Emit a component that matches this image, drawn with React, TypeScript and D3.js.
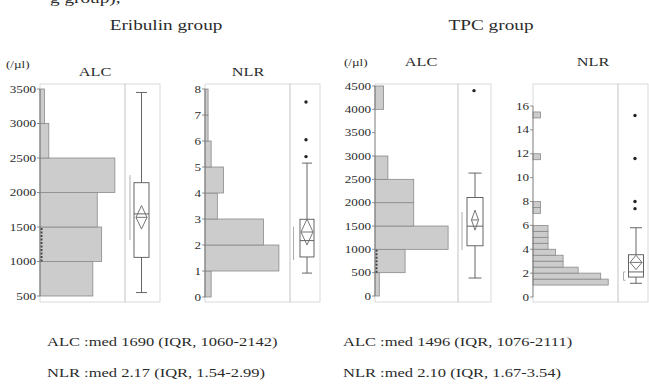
import React from 'react';
import * as d3 from 'd3';

// Eribulin group
const eribAlcEdges = [500, 1000, 1500, 2000, 2500, 3000];
const eribAlcCounts = [12, 14, 13, 17, 2, 1];
const eribAlcTicks = [500, 1000, 1500, 2000, 2500, 3000, 3500];
const eribAlcBox = [550, 1060, 1690, 2142, 3450]; // min, q1, median, q3, max
const eribAlcMean = [1470, 1640, 1810];
const eribAlcShort = [1310, 2250];
const eribAlcOut: number[] = [];
const eribAlcRug = [1000, 1500];

const eribNlrEdges = [0, 1, 2, 3, 4, 5, 6, 7];
const eribNlrCounts = [2, 24, 19, 4, 6, 2, 1, 1];
const eribNlrTicks = [0, 1, 2, 3, 4, 5, 6, 7, 8];
const eribNlrBox = [0.92, 1.54, 2.17, 2.99, 5.15];
const eribNlrMean = [2.0, 2.5, 3.0];
const eribNlrShort = [1.42, 2.7];
const eribNlrOut = [5.4, 6.05, 7.5];

// TPC group
const tpcAlcEdges = [0, 500, 1000, 1500, 2000, 2500, 3000, 3500, 4000];
const tpcAlcCounts = [1, 7, 17, 9, 9, 3, 0, 0, 2];
const tpcAlcTicks = [0, 500, 1000, 1500, 2000, 2500, 3000, 3500, 4000, 4500];
const tpcAlcBox = [385, 1076, 1496, 2111, 2634];
const tpcAlcMean = [1410, 1630, 1840];
const tpcAlcShort = [985, 1800];
const tpcAlcOut = [4400];
const tpcAlcRug = [500, 1000];

const tpcNlrEdges = [1, 1.5, 2, 2.5, 3, 3.5, 4, 4.5, 5, 5.5, 7, 7.5, 11.5, 15];
const tpcNlrCounts = [10, 9, 6, 4, 4, 3, 2, 2, 2, 2, 1, 1, 1, 1];
const tpcNlrTicks = [0, 2, 4, 6, 8, 10, 12, 14, 16];
const tpcNlrBox = [1.15, 1.67, 2.10, 3.54, 5.8];
const tpcNlrMean = [2.3, 2.9, 3.5];
const tpcNlrShort = [1.4, 2.1];
const tpcNlrOut = [7.4, 8.0, 11.6, 15.2];

const summaryLines = [
  'ALC :med 1690 (IQR, 1060-2142)',
  'NLR :med 2.17 (IQR, 1.54-2.99)',
  'ALC :med 1496 (IQR, 1076-2111)',
  'NLR :med 2.10 (IQR, 1.67-3.54)',
];

const SX = 1.25; // the source figure is stretched sideways
const FONT = "'Liberation Serif', 'Times New Roman', serif";
const INK = '#2b2b2b';

function T({ x, y, size, anchor = 'start', children }: any) {
  return (
    <text
      transform={`translate(${x},${y}) scale(${SX},1)`}
      fontSize={size}
      textAnchor={anchor}
      fontFamily={FONT}
      fill={INK}
    >
      {children}
    </text>
  );
}

function Panel({ lay, edges, counts, binW, ticks, box, mean, short, out, rug }: any) {
  const top = 84;
  const bottom = 302;
  const y = d3.scaleLinear().domain(lay.domain).range(lay.yRange);
  const x = d3.scaleLinear().domain([0, lay.xMax]).range([lay.x0, lay.x1]);
  const [mn, q1, md, q3, mx] = box;
  const cx = lay.cx;
  const hw = lay.bw / 2;
  const cap = lay.cap / 2;
  return (
    <g>
      <rect x={lay.x0} y={top} width={lay.x1 - lay.x0} height={bottom - top} fill="none" stroke="#cfcfcf" strokeWidth={0.8} />
      <rect x={lay.x1} y={top} width={lay.xb - lay.x1} height={bottom - top} fill="none" stroke="#cfcfcf" strokeWidth={0.8} />

      {edges.map((e: number, i: number) =>
        counts[i] > 0 ? (
          <rect
            key={i}
            x={x(0)}
            y={y(e + binW)}
            width={x(counts[i]) - x(0)}
            height={y(e) - y(e + binW)}
            fill="#cccccc"
            stroke="#8a8a8a"
            strokeWidth={0.8}
          />
        ) : null
      )}
      {rug ? (
        <line x1={lay.x0 + 1.5} x2={lay.x0 + 1.5} y1={y(rug[0])} y2={y(rug[1])} stroke="#444" strokeWidth={2} strokeDasharray="2,1.5" />
      ) : null}

      <line x1={lay.x0} x2={lay.x0} y1={y(ticks[ticks.length - 1])} y2={y(ticks[0])} stroke="#777" strokeWidth={0.8} />
      {ticks.map((t: number) => (
        <g key={t}>
          <line x1={lay.x0 - 3} x2={lay.x0} y1={y(t)} y2={y(t)} stroke="#777" strokeWidth={0.8} />
          <T x={lay.x0 - 4} y={y(t) + 3.5} size={10.5} anchor="end">{t}</T>
        </g>
      ))}

      {/* shortest half bracket */}
      <line x1={lay.bx} x2={lay.bx} y1={y(short[1])} y2={y(short[0])} stroke="#999" strokeWidth={0.8} />
      {lay.bcap ? (
        <g stroke="#999" strokeWidth={0.8}>
          <line x1={lay.bx} x2={lay.bx + 2} y1={y(short[1])} y2={y(short[1])} />
          <line x1={lay.bx} x2={lay.bx + 2} y1={y(short[0])} y2={y(short[0])} />
        </g>
      ) : null}

      {/* box plot */}
      <g stroke="#555" strokeWidth={0.9} fill="none">
        <line x1={cx} x2={cx} y1={y(mx)} y2={y(q3)} />
        <line x1={cx} x2={cx} y1={y(q1)} y2={y(mn)} />
        <line x1={cx - cap} x2={cx + cap} y1={y(mx)} y2={y(mx)} />
        <line x1={cx - cap} x2={cx + cap} y1={y(mn)} y2={y(mn)} />
        <rect x={cx - hw} y={y(q3)} width={lay.bw} height={y(q1) - y(q3)} fill="#fff" />
        <line x1={cx - hw} x2={cx + hw} y1={y(md)} y2={y(md)} />
        <polygon
          points={[
            [cx, y(mean[2])],
            [cx + lay.dw, y(mean[1])],
            [cx, y(mean[0])],
            [cx - lay.dw, y(mean[1])],
          ].map((p) => p.join(',')).join(' ')}
          stroke="#666"
        />
        <line x1={cx - lay.dw} x2={cx + lay.dw} y1={y(mean[1])} y2={y(mean[1])} stroke="#666" />
      </g>
      {out.map((o: number, i: number) => (
        <circle key={i} cx={cx - 1} cy={y(o)} r={1.7} fill="#222" />
      ))}
    </g>
  );
}

export default function App() {
  return (
    <svg
      width={649}
      height={389}
      style={{ position: 'absolute', left: 0, top: 0, background: '#fff' }}
    >
      <T x={50} y={3} size={15.4}>g group),</T>

      <T x={166} y={30} size={15.4} anchor="middle">Eribulin group</T>
      <T x={491} y={30} size={15.4} anchor="middle">TPC group</T>

      <T x={6} y={68} size={10.5}>(/µl)</T>
      <T x={95} y={76} size={13} anchor="middle">ALC</T>
      <T x={248} y={76} size={13} anchor="middle">NLR</T>
      <T x={344} y={66} size={10.5}>(/µl)</T>
      <T x={421} y={66} size={13} anchor="middle">ALC</T>
      <T x={593} y={66} size={13} anchor="middle">NLR</T>

      <Panel
        lay={{ x0: 40, x1: 125, xb: 160, domain: [500, 3500], yRange: [296, 89], xMax: 19.3, cx: 141.5, bw: 15, cap: 11, dw: 5.5, bx: 130 }}
        edges={eribAlcEdges} counts={eribAlcCounts} binW={500} ticks={eribAlcTicks}
        box={eribAlcBox} mean={eribAlcMean} short={eribAlcShort} out={eribAlcOut} rug={eribAlcRug}
      />
      <Panel
        lay={{ x0: 205, x1: 290, xb: 320, domain: [0, 8], yRange: [297, 89], xMax: 27.6, cx: 307, bw: 14, cap: 10, dw: 6, bx: 293.5 }}
        edges={eribNlrEdges} counts={eribNlrCounts} binW={1} ticks={eribNlrTicks}
        box={eribNlrBox} mean={eribNlrMean} short={eribNlrShort} out={eribNlrOut}
      />
      <Panel
        lay={{ x0: 375, x1: 458, xb: 491, domain: [0, 4500], yRange: [296, 86], xMax: 19.3, cx: 475, bw: 16, cap: 13, dw: 3.5, bx: 462 }}
        edges={tpcAlcEdges} counts={tpcAlcCounts} binW={500} ticks={tpcAlcTicks}
        box={tpcAlcBox} mean={tpcAlcMean} short={tpcAlcShort} out={tpcAlcOut} rug={tpcAlcRug}
      />
      <Panel
        lay={{ x0: 533, x1: 618, xb: 648, domain: [0, 16], yRange: [297, 106], xMax: 11.3, cx: 636, bw: 15, cap: 12, dw: 6, bx: 623.5, bcap: true }}
        edges={tpcNlrEdges} counts={tpcNlrCounts} binW={0.5} ticks={tpcNlrTicks}
        box={tpcNlrBox} mean={tpcNlrMean} short={tpcNlrShort} out={tpcNlrOut}
      />

      <T x={47} y={346} size={13.2}>{summaryLines[0]}</T>
      <T x={47} y={377} size={13.2}>{summaryLines[1]}</T>
      <T x={343} y={346} size={13.2}>{summaryLines[2]}</T>
      <T x={343} y={377} size={13.2}>{summaryLines[3]}</T>
    </svg>
  );
}
